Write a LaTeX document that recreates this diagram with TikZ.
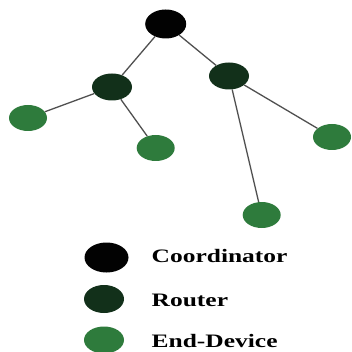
\documentclass[tikz,border=0pt]{standalone}
\usepackage{fontspec}
\setmainfont{Liberation Serif}
\usetikzlibrary{shapes.geometric}
\definecolor{coordc}{HTML}{020202}
\definecolor{routerc}{HTML}{12301A}
\definecolor{endc}{HTML}{2E7B3C}
\definecolor{linec}{HTML}{505050}
\tikzset{
  dev/.style={ellipse, inner sep=0pt, draw=none},
  coordn/.style={dev, fill=coordc, minimum width=41pt, minimum height=29pt},
  routern/.style={dev, fill=routerc, minimum width=40pt, minimum height=27pt},
  endn/.style={dev, fill=endc, minimum width=38pt, minimum height=26pt},
  link/.style={draw=linec, line width=1.3pt},
  legtext/.style={anchor=base west, inner sep=0pt, font=\fontsize{19}{19}\selectfont\bfseries}
}
\begin{document}
\begin{tikzpicture}[x=1pt, y=-1pt]
\useasboundingbox (0,0) rectangle (351,352);
% network
\node[coordn] (c) at (165.7,24) {};
\node[routern] (r1) at (112,87) {};
\node[routern] (r2) at (229,76) {};
\node[endn] (e1) at (28,118) {};
\node[endn] (e2) at (155.7,148) {};
\node[endn] (e3) at (332,137) {};
\node[endn] (e4) at (261.7,215) {};
\draw[link] (c) -- (r1);
\draw[link] (c) -- (r2);
\draw[link] (r1) -- (e1);
\draw[link] (r1) -- (e2);
\draw[link] (r2) -- (e3);
\draw[link] (r2) -- (e4);
% legend
\node[coordn, minimum width=44pt, minimum height=30pt] (lc) at (106.5,257.5) {};
\node[routern, minimum width=40pt, minimum height=28pt] (lr) at (104,299) {};
\node[endn, minimum width=40pt, minimum height=27pt] (le) at (104,340) {};
\node[legtext] (tc) at (151.5,262) {\scalebox{1.34}[1]{Coordinator}};
\node[legtext] (tr) at (151.5,306) {\scalebox{1.34}[1]{Router}};
\node[legtext] (te) at (151.5,347) {\scalebox{1.34}[1]{End-Device}};
\end{tikzpicture}
\end{document}
